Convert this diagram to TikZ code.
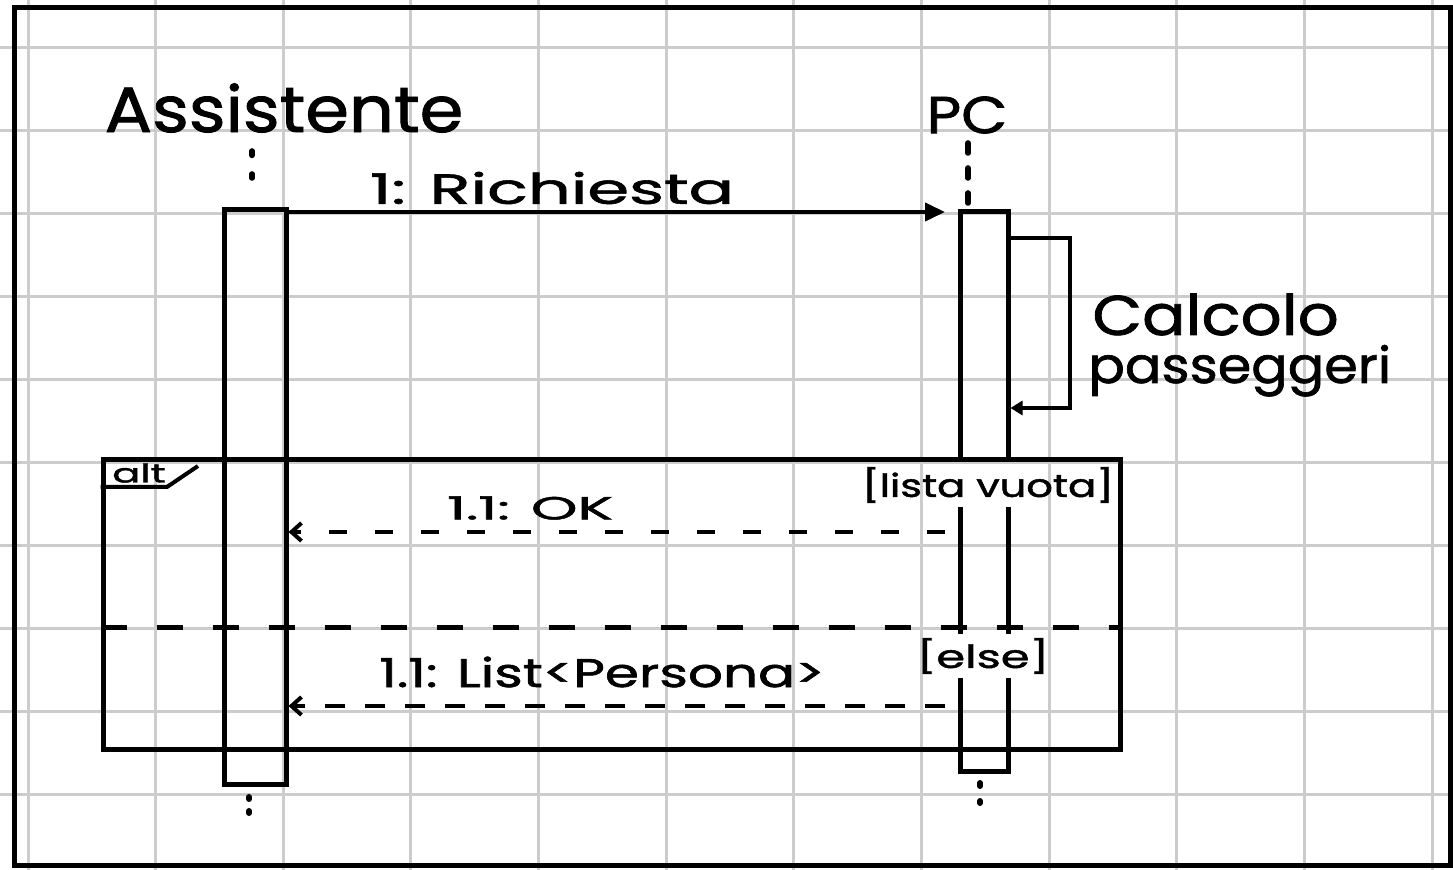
\documentclass[tikz,border=0pt]{standalone}
\usepackage{fontspec}
\setmainfont{Poppins}[FakeBold=1.3]
\usetikzlibrary{arrows.meta,calc}
\tikzset{
  gridline/.style={draw=black!20, line width=1.5pt},
  ink/.style={draw=black, line width=2.5pt},
  actbox/.style={draw=black, line width=2.5pt, rectangle, inner sep=0pt},
  msg/.style={draw=black, line width=2pt, -{Triangle[length=10pt,width=9pt]}},
  selfmsg/.style={draw=black, line width=2pt, -{Triangle[length=6pt,width=7pt]}},
  ret/.style={draw=black, line width=2pt, -{Straight Barb[length=5pt,width=9pt,line width=2pt]}},
  lifedash/.style={draw=black, line width=2.8pt, line cap=round},
  lbl/.style={inner sep=0pt, text=black},
  patch/.style={fill=white, inner sep=2pt},
}
\newcommand{\hw}[3]{\scalebox{#1}[1]{\fontsize{#2}{#2}\selectfont #3}}
\newcommand{\gridlines}{%
  \foreach \i in {0,...,11} \draw[gridline] ({28+127.65*\i},0) -- ({28+127.65*\i},870);
  \foreach \j in {0,...,9} \draw[gridline] (0,{48+82.9*\j}) -- (1453,{48+82.9*\j});
}
\begin{document}
\begin{tikzpicture}[x=0.5pt,y=-0.5pt]
\useasboundingbox (0,0) rectangle (1453,870);
\fill[white] (0,0) rectangle (1453,870);
\gridlines
% outer frame
\draw[ink] (14,8) rectangle (1450,866);

% lifeline heads
\node[lbl] (asst) at (284,108) {\hw{1.1}{32}{Assistente}};
\node[lbl] (pc) at (967,115) {\hw{1.15}{26}{PC}};

% activation boxes
\node[actbox, minimum width=31pt, minimum height=287.5pt] (A) at (255,497.5) {};
\node[actbox, minimum width=24pt, minimum height=280pt] (P) at (984,492) {};

% lifeline dashes
\coordinate (a1) at (252,151);
\coordinate (a2) at (252,178);
\draw[lifedash, dash pattern=on 2.2pt off 9.3pt] (a1) -- (a2);
\coordinate (p1) at (968,143);
\coordinate (p2) at (968,203);
\draw[lifedash, dash pattern=on 5pt off 7.5pt] (p1) -- (p2);
\coordinate (a3) at (249,797);
\coordinate (a4) at (249,813);
\draw[lifedash, line width=3pt, dash pattern=on 1pt off 6pt] (a3) -- (a4);
\coordinate (p3) at (980,783);
\coordinate (p4) at (980,803);
\draw[lifedash, line width=3pt, dash pattern=on 1.5pt off 7.5pt] (p3) -- (p4);

% message 1
\coordinate (m1e) at (945,212);
\draw[msg] (A.east |- m1e) -- (m1e);
\node[lbl] (m1) at (552,188) {\hw{1.6}{21}{1: Richiesta}};

% self message
\coordinate (s1) at (1070,238);
\coordinate (s2) at (1070,408);
\draw[selfmsg] (P.east |- s1) -- (s1) -- (s2) -- (P.east |- s2);
\node[lbl, anchor=base west] (calc1) at (1092,335) {\hw{1.15}{28}{Calcolo}};
\node[lbl, anchor=base west] (calc2) at (1088,383) {\hw{1.08}{25}{passeggeri}};

% alt frame
\node[actbox, minimum width=508.5pt, minimum height=145pt] (alt) at (611.5,605) {};
\coordinate (tg) at (167,487);
\coordinate (tg2) at (198,466);
\draw[draw=black, line width=2pt] (alt.west |- tg) -- (tg) -- (tg2);
\node[lbl] (altl) at (139,473) {\hw{1.6}{13}{alt}};

% separator
\coordinate (sp) at (0,628);
\draw[draw=black, line width=2.5pt, dash pattern=on 13pt off 15pt] (alt.west |- sp) -- (alt.east |- sp);

% return 1
\coordinate (r1) at (945,532);
\draw[ret, dash pattern=on 9pt off 14pt] (r1) -- (A.east |- r1);
\node[lbl] (ok) at (530,508) {\hw{1.85}{16}{1.1: OK}};

% return 2
\coordinate (r2) at (945,706);
\draw[ret, dash pattern=on 10pt off 10pt] (r2) -- (A.east |- r2);
\node[lbl] (lst) at (602,672) {\hw{1.37}{20}{1.1: List<Persona>}};

% guards with white background
\node[patch] (lvbg) at (988,485) {\phantom{\hw{1.3}{16}{[lista vuota]}}};
\node[patch] (elbg) at (983,656) {\phantom{\hw{1.45}{16}{[else]}}};
\begin{scope}
  \clip (lvbg.south west) rectangle (lvbg.north east);
  \gridlines
\end{scope}
\begin{scope}
  \clip (elbg.south west) rectangle (elbg.north east);
  \gridlines
\end{scope}
\node[lbl] (lv) at (lvbg) {\hw{1.3}{16}{[lista vuota]}};
\node[lbl] (el) at (elbg) {\hw{1.45}{16}{[else]}};
\end{tikzpicture}
\end{document}
